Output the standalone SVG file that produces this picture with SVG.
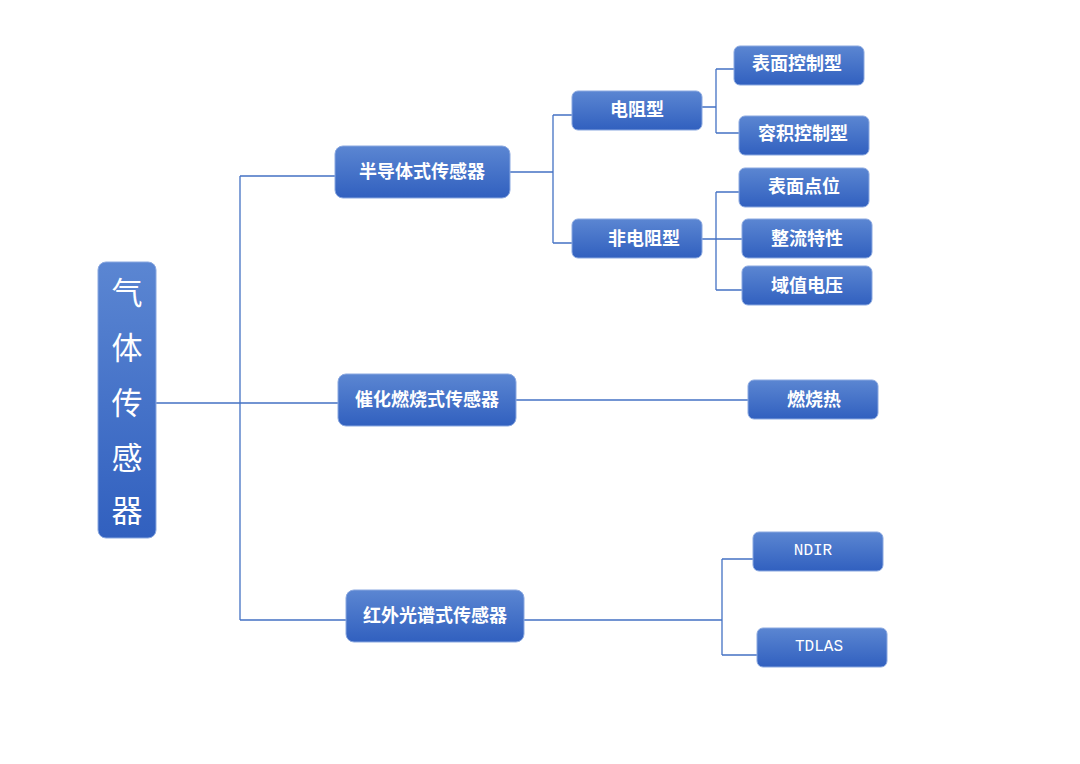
<svg xmlns="http://www.w3.org/2000/svg" width="1080" height="764" viewBox="0 0 1080 764">
<defs>
<linearGradient id="g" x1="0" y1="0" x2="0" y2="1">
<stop offset="0" stop-color="#5b86d2"/>
<stop offset="1" stop-color="#3160bf"/>
</linearGradient>
<style>
.b{fill:url(#g);stroke:#8aa8e0;stroke-width:1}
.t{fill:#fff;font-family:"Liberation Sans","Noto Sans CJK SC",sans-serif;font-size:18px;font-weight:bold;text-anchor:middle;dominant-baseline:central}
.r{fill:#fff;font-family:"Noto Sans CJK SC",sans-serif;font-size:31px;text-anchor:middle;dominant-baseline:central}
.m{fill:#fff;font-family:"Liberation Mono",monospace;font-size:16px;text-anchor:middle;dominant-baseline:central}
.c{fill:none;stroke:#4472c4;stroke-width:1.3}
</style>
</defs>
<rect width="1080" height="764" fill="#fff"/>
<g id="connectors">
<path class="c" d="M156 403H338M240 176V620M240 176H335M240 620H346"/>
<path class="c" d="M510 172H553M553 115V243M553 115H572M553 243H572"/>
<path class="c" d="M702 107H716M716 69V133M716 69H734M716 133H739"/>
<path class="c" d="M702 239H742M716 192V290M716 192H739M716 290H742"/>
<path class="c" d="M516 400H748"/>
<path class="c" d="M524 620H722M722 559V655M722 559H753M722 655H757"/>
</g>
<g id="root"><rect class="b" x="98" y="262" width="58" height="276" rx="8"/>
<text class="r" x="127" y="290">气</text><text class="r" x="127" y="345">体</text><text class="r" x="127" y="400">传</text><text class="r" x="127" y="455">感</text><text class="r" x="127" y="508">器</text></g>
<g id="n1"><rect class="b" x="335" y="146" width="175" height="52" rx="8"/><text class="t" x="422" y="172">半导体式传感器</text></g>
<g id="n2"><rect class="b" x="338" y="374" width="178" height="52" rx="8"/><text class="t" x="427" y="400">催化燃烧式传感器</text></g>
<g id="n3"><rect class="b" x="346" y="590" width="178" height="52" rx="8"/><text class="t" x="435" y="616">红外光谱式传感器</text></g>
<g id="n4"><rect class="b" x="572" y="91" width="130" height="39" rx="6"/><text class="t" x="637" y="110">电阻型</text></g>
<g id="n5"><rect class="b" x="572" y="219" width="130" height="39" rx="6"/><text class="t" x="644" y="239">非电阻型</text></g>
<g id="n6"><rect class="b" x="734" y="46" width="130" height="39" rx="6"/><text class="t" x="797" y="64">表面控制型</text></g>
<g id="n7"><rect class="b" x="739" y="116" width="130" height="39" rx="6"/><text class="t" x="803" y="134">容积控制型</text></g>
<g id="n8"><rect class="b" x="739" y="168" width="130" height="39" rx="6"/><text class="t" x="804" y="187">表面点位</text></g>
<g id="n9"><rect class="b" x="742" y="219" width="130" height="39" rx="6"/><text class="t" x="807" y="239">整流特性</text></g>
<g id="n10"><rect class="b" x="742" y="266" width="130" height="39" rx="6"/><text class="t" x="807" y="286">域值电压</text></g>
<g id="n11"><rect class="b" x="748" y="380" width="130" height="39" rx="6"/><text class="t" x="814" y="400">燃烧热</text></g>
<g id="n12"><rect class="b" x="753" y="532" width="130" height="39" rx="6"/><text class="m" x="813" y="551">NDIR</text></g>
<g id="n13"><rect class="b" x="757" y="628" width="130" height="39" rx="6"/><text class="m" x="819" y="647">TDLAS</text></g>
</svg>
